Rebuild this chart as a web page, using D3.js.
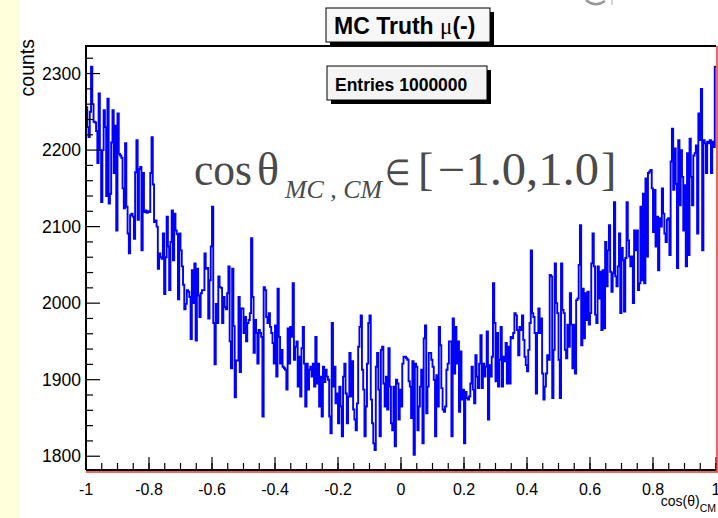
<!DOCTYPE html>
<html>
<head>
<meta charset="utf-8">
<script src="https://cdn.jsdelivr.net/npm/d3@7"></script>
<style>
  body { margin: 0; background: #fff; }
  svg { display: block; font-family: "Liberation Sans", Arial, sans-serif; }
  .tick-label { font-size: 16px; fill: #000; }
</style>
</head>
<body>
<div id="wrapper"></div>
<script>
// histogram contents, 500 bins between -1 and 1
const binRange = [-1, 1]
const counts = [
  2256,2230,2217,2250,2309,2260,2237,2236,2225,2183,
  2274,2200,2132,2200,2252,2230,2140,2267,2130,2143,
  2210,2252,2170,2232,2095,2248,2195,2193,2190,2150,
  2124,2209,2126,2091,2065,2115,2117,2113,2084,2171,
  2213,2109,2175,2178,2069,2170,2119,2121,2118,2120,
  2119,2170,2217,2155,2106,2108,2100,2045,2065,2060,
  2058,2091,2012,2060,2113,2074,2017,2080,2121,2056,
  2117,2095,2090,2005,2091,2069,2048,2024,1992,1999,
  2017,2015,2008,1953,2043,2000,2052,1951,2045,2010,
  1982,2013,2017,2017,2065,2045,2046,1980,2030,2074,
  2126,1974,1920,1999,1974,2035,2021,2020,1974,2008,
  1995,1992,2013,2048,1950,1915,2045,1970,1877,1925,
  1925,2008,1910,1993,1993,1961,1982,1950,1974,1978,
  1987,2085,2008,1935,1978,1961,1921,1965,1961,1956,
  1852,2021,2017,1982,1974,1987,1969,1961,1948,1921,
  1971,1904,2019,1956,1921,1939,1917,1915,1913,1887,
  1967,1921,1969,1956,2026,1926,1943,1950,1891,1930,
  1878,1941,1969,1921,1865,1921,1887,1913,1917,1904,
  1921,1891,1956,1895,1921,1865,1904,1852,1917,1897,
  1913,1904,1900,1852,1830,1974,1891,1917,1869,1882,
  1843,1891,1865,1826,1904,1921,1882,1843,1878,1935,
  1878,1924,1861,1848,1834,1869,1943,1969,1984,1913,
  1887,1826,1865,1921,1974,1984,1874,1843,1817,1808,
  1917,1935,1887,1826,1939,1943,1895,1865,1904,1861,
  1941,1891,1843,1834,1891,1813,1900,1895,1848,1887,
  1865,1921,1930,1930,1928,1926,1898,1891,1850,1924,
  1802,1921,1917,1834,1865,1891,1913,1817,1954,1971,
  1856,1891,1935,1935,1926,1917,1900,1826,1906,1865,
  1969,1945,1889,1861,1858,1865,1913,1921,1950,1950,
  1826,1980,1908,1969,1921,1950,1858,1937,1874,1887,
  1817,1884,1876,1874,1878,1895,1917,1887,1869,1932,
  1904,1889,1921,1958,1889,1921,1904,1917,1963,1848,
  1919,1904,1930,2026,1974,1898,1961,1891,1926,1969,
  1891,1930,1924,1948,1895,1943,1895,1956,1954,1961,
  1987,1984,1965,1932,1969,1965,1984,1952,1930,1919,
  1911,1939,1974,2069,1987,1982,1961,1882,1961,1993,
  1961,1980,1908,1874,1891,1908,1932,1926,2037,2035,
  1876,1939,2052,2000,1987,1926,1876,2052,1991,1987,
  1939,1928,1972,1943,2013,1972,1915,1972,1908,2004,
  2006,2050,2102,1945,2019,1954,2013,1978,2015,1972,
  1987,2052,2091,2048,1985,1974,2048,2006,2041,1965,
  2043,1967,2080,2022,2069,2102,2041,2015,2039,2132,
  2035,2022,2048,2091,1987,2072,2056,1989,2059,2132,
  2082,2061,2048,2061,2000,2095,2069,2095,2017,2026,
  2126,2030,2143,2026,2163,2061,2170,2172,2174,2150,
  2093,2148,2074,2113,2043,2111,2100,2150,2117,2091,
  2080,2109,2111,2063,2185,2228,2148,2202,2156,2046,
  2213,2128,2200,2165,2095,2154,2048,2196,2063,2215,
  2165,2128,2193,2196,2206,2091,2248,2213,2280,2069,
  2213,2209,2170,2211,2209,2213,2170,2211,2204,2309
]
const yDomain = [1782, 2336]
const yMajorTicks = [1800, 1900, 2000, 2100, 2200, 2300]
const xMajorTicks = [-1, -0.8, -0.6, -0.4, -0.2, 0, 0.2, 0.4, 0.6, 0.8, 1]
const xTickLabels = ["-1", "-0.8", "-0.6", "-0.4", "-0.2", "0", "0.2", "0.4", "0.6", "0.8", "1"]
const titleText = "MC Truth"
const entriesText = "Entries 1000000"

function drawChart() {
  // dimensions
  let dimensions = {
    width: 718,
    height: 518,
    margin: { top: 46, right: 2, bottom: 48, left: 86 },
  }
  dimensions.boundedWidth = dimensions.width - dimensions.margin.left - dimensions.margin.right
  dimensions.boundedHeight = dimensions.height - dimensions.margin.top - dimensions.margin.bottom

  const wrapper = d3.select('#wrapper')
    .append('svg')
    .attr('width', dimensions.width)
    .attr('height', dimensions.height)

  // pale yellow canvas strip on the left
  wrapper.append('rect')
    .attr('x', 0).attr('y', 0)
    .attr('width', 20).attr('height', dimensions.height)
    .attr('fill', '#ffffdb')

  // bit of a cut-off glyph at the top edge
  wrapper.append('path')
    .attr('d', 'M586,0 Q595,8 605,1')
    .attr('fill', 'none').attr('stroke', '#999').attr('stroke-width', 2.5)
  wrapper.append('line')
    .attr('x1', 612).attr('x2', 612).attr('y1', 0).attr('y2', 5)
    .attr('stroke', '#aaa').attr('stroke-width', 1)

  const bounds = wrapper.append('g')
    .attr('transform', `translate(${dimensions.margin.left},${dimensions.margin.top})`)

  // scales
  const xScale = d3.scaleLinear()
    .domain(binRange)
    .range([0, dimensions.boundedWidth])
  const yScale = d3.scaleLinear()
    .domain(yDomain)
    .range([dimensions.boundedHeight, 0])

  // histogram as steps
  const binWidth = (binRange[1] - binRange[0]) / counts.length
  const steps = counts.map((c, i) => ({ x: binRange[0] + i * binWidth, y: c }))
  steps.push({ x: binRange[1], y: counts[counts.length - 1] })

  const lineGenerator = d3.line()
    .x(d => xScale(d.x))
    .y(d => yScale(d.y))
    .curve(d3.curveStepAfter)

  bounds.append('path')
    .datum(steps)
    .attr('d', lineGenerator)
    .attr('fill', 'none')
    .attr('stroke', '#0000ff')
    .attr('stroke-width', 1.9)

  // axes
  const yMinor = d3.range(1800, 2336, 20)
  const yAxis = bounds.append('g')
  yAxis.selectAll('.minor')
    .data(yMinor.filter(v => !yMajorTicks.includes(v)))
    .enter().append('line')
    .attr('x1', 0).attr('x2', 7)
    .attr('y1', d => yScale(d)).attr('y2', d => yScale(d))
    .attr('stroke', '#000').attr('stroke-width', 1.2)
  yAxis.selectAll('.major')
    .data(yMajorTicks)
    .enter().append('line')
    .attr('x1', 0).attr('x2', 14)
    .attr('y1', d => yScale(d)).attr('y2', d => yScale(d))
    .attr('stroke', '#000').attr('stroke-width', 1.2)
  yAxis.selectAll('text')
    .data(yMajorTicks)
    .enter().append('text')
    .attr('class', 'tick-label')
    .style('font-size', '17.5px')
    .attr('x', -5)
    .attr('y', d => yScale(d))
    .attr('dy', '0.35em')
    .attr('text-anchor', 'end')
    .text(d => d)

  const xMinor = d3.range(-1, 1.0001, 0.05)
  const xAxis = bounds.append('g')
    .attr('transform', `translate(0,${dimensions.boundedHeight})`)
  xAxis.selectAll('.minor')
    .data(xMinor)
    .enter().append('line')
    .attr('x1', d => xScale(d)).attr('x2', d => xScale(d))
    .attr('y1', 0).attr('y2', -7)
    .attr('stroke', '#000').attr('stroke-width', 1.2)
  xAxis.selectAll('.major')
    .data(xMajorTicks)
    .enter().append('line')
    .attr('x1', d => xScale(d)).attr('x2', d => xScale(d))
    .attr('y1', 0).attr('y2', -13)
    .attr('stroke', '#000').attr('stroke-width', 1.2)
  xAxis.selectAll('text')
    .data(xMajorTicks)
    .enter().append('text')
    .attr('class', 'tick-label')
    .attr('x', d => xScale(d))
    .attr('y', 25)
    .attr('text-anchor', 'middle')
    .text((d, i) => xTickLabels[i])

  // frame
  bounds.append('path')
    .attr('d', `M0,${dimensions.boundedHeight}V0H${dimensions.boundedWidth}`)
    .attr('fill', 'none').attr('stroke', '#000').attr('stroke-width', 2)
  bounds.append('line')
    .attr('x1', 0).attr('x2', dimensions.boundedWidth)
    .attr('y1', dimensions.boundedHeight).attr('y2', dimensions.boundedHeight)
    .attr('stroke', '#000').attr('stroke-width', 2)
  bounds.append('path')
    .attr('d', `M0,${dimensions.boundedHeight + 2}H${dimensions.boundedWidth + 1}V0`)
    .attr('fill', 'none').attr('stroke', '#e8332a').attr('stroke-width', 1.5)

  // axis titles
  wrapper.append('text')
    .attr('transform', `translate(34,39) rotate(-90)`)
    .attr('text-anchor', 'end')
    .style('font-size', '19.5px')
    .text('counts')

  const xTitle = wrapper.append('text')
    .attr('x', 716).attr('y', 506)
    .attr('text-anchor', 'end')
    .style('font-size', '14px')
  xTitle.append('tspan').text('cos(θ)')
  xTitle.append('tspan').attr('dy', 6).style('font-size', '10.5px').text('CM')

  // title box
  const titleBox = wrapper.append('g')
  titleBox.append('rect')
    .attr('x', 330).attr('y', 12).attr('width', 164).attr('height', 34)
    .attr('fill', '#000')
  titleBox.append('rect')
    .attr('x', 326).attr('y', 8).attr('width', 164).attr('height', 34)
    .attr('fill', '#f7f7f7').attr('stroke', '#000').attr('stroke-width', 1)
  const titleLabel = titleBox.append('text')
    .attr('x', 334).attr('y', 34)
    .style('font-size', '23px').style('font-weight', 'bold')
  titleLabel.append('tspan').text(titleText + ' ')
  titleLabel.append('tspan')
    .style('font-family', '"Liberation Serif", serif').style('font-weight', 'normal')
    .text('μ')
  titleLabel.append('tspan').text('(-)')

  // stats box
  const statsBox = wrapper.append('g')
  statsBox.append('rect')
    .attr('x', 331).attr('y', 70).attr('width', 160).attr('height', 34)
    .attr('fill', '#000')
  statsBox.append('rect')
    .attr('x', 327).attr('y', 66).attr('width', 160).attr('height', 34)
    .attr('fill', '#f4f4f4').attr('stroke', '#000').attr('stroke-width', 1)
  statsBox.append('text')
    .attr('x', 335).attr('y', 91)
    .style('font-size', '17.5px').style('font-weight', 'bold')
    .text(entriesText)

  // latex-like annotation
  const latex = wrapper.append('g')
    .style('font-family', '"Liberation Serif", "Times New Roman", serif')
    .attr('fill', '#4a4a4a')
  latex.append('text').attr('x', 194).attr('y', 185).style('font-size', '46px')
    .attr('textLength', 58).attr('lengthAdjust', 'spacingAndGlyphs').text('cos')
  latex.append('text').attr('x', 257).attr('y', 185).style('font-size', '46px').text('θ')
  latex.append('text').attr('x', 285).attr('y', 198).style('font-size', '26px')
    .style('font-style', 'italic')
    .attr('textLength', 97).attr('lengthAdjust', 'spacingAndGlyphs').text('MC , CM')
  latex.append('text').attr('x', 385).attr('y', 185).style('font-size', '36px')
    .attr('textLength', 25).attr('lengthAdjust', 'spacingAndGlyphs').text('∈')
  latex.append('text').attr('x', 418).attr('y', 185).style('font-size', '46px').text('[')
  latex.append('text').attr('x', 438).attr('y', 185).style('font-size', '46px')
    .attr('textLength', 161).attr('lengthAdjust', 'spacingAndGlyphs').text('−1.0,1.0')
  latex.append('text').attr('x', 601).attr('y', 185).style('font-size', '46px').text(']')
}

drawChart();
</script>
</body>
</html>
